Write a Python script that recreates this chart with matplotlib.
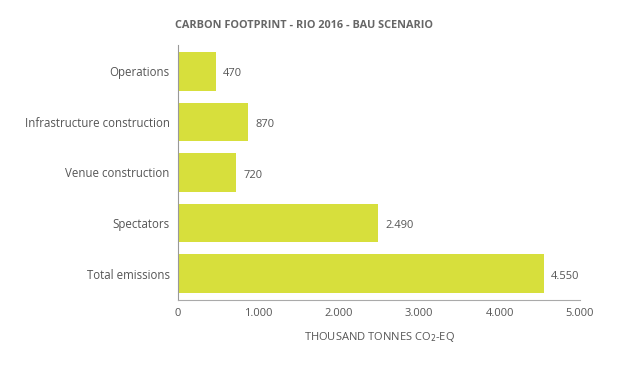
import matplotlib.pyplot as plt

# data
categories = ['Operations', 'Infrastructure construction', 'Venue construction',
              'Spectators', 'Total emissions']
values = [470, 870, 720, 2490, 4550]
xticks = [0, 1000, 2000, 3000, 4000, 5000]

plt.rcParams['font.family'] = ['Open Sans', 'DejaVu Sans']
grey = '#555555'
bar_color = '#d7df3c'

fig = plt.figure(figsize=(6.25, 3.75), dpi=100)
ax = fig.add_axes([0.285, 0.2, 0.643, 0.68])

ypos = list(range(len(categories)))
ax.barh(ypos, values, height=0.76, color=bar_color)
ax.set_ylim(len(categories) - 0.48, -0.52)
ax.set_xlim(0, 5000)

ax.set_yticks(ypos)
ax.set_yticklabels(categories, fontsize=8.3, color=grey)
ax.set_xticks(xticks)
ax.set_xticklabels([f'{t:,}'.replace(',', '.') for t in xticks], fontsize=8, color=grey)
ax.tick_params(length=0, pad=6)

for y, v in zip(ypos, values):
    ax.text(v + 90, y + 0.05, f'{v:,}'.replace(',', '.'), va='center', ha='left',
            fontsize=8, color=grey)

for s in ['top', 'right']:
    ax.spines[s].set_visible(False)
ax.spines['left'].set_color('#999999')
ax.spines['bottom'].set_color('#aaaaaa')
ax.spines['left'].set_linewidth(0.8)
ax.spines['bottom'].set_linewidth(0.8)

ax.set_xlabel('THOUSAND TONNES CO$_2$-EQ', fontsize=8, color=grey, labelpad=8)
fig.text(0.487, 0.932, 'CARBON FOOTPRINT - RIO 2016 - BAU SCENARIO', ha='center',
         va='center', fontsize=7.8, fontweight='bold', color='#666666')

fig.savefig('out.png', dpi=100, facecolor='white')
